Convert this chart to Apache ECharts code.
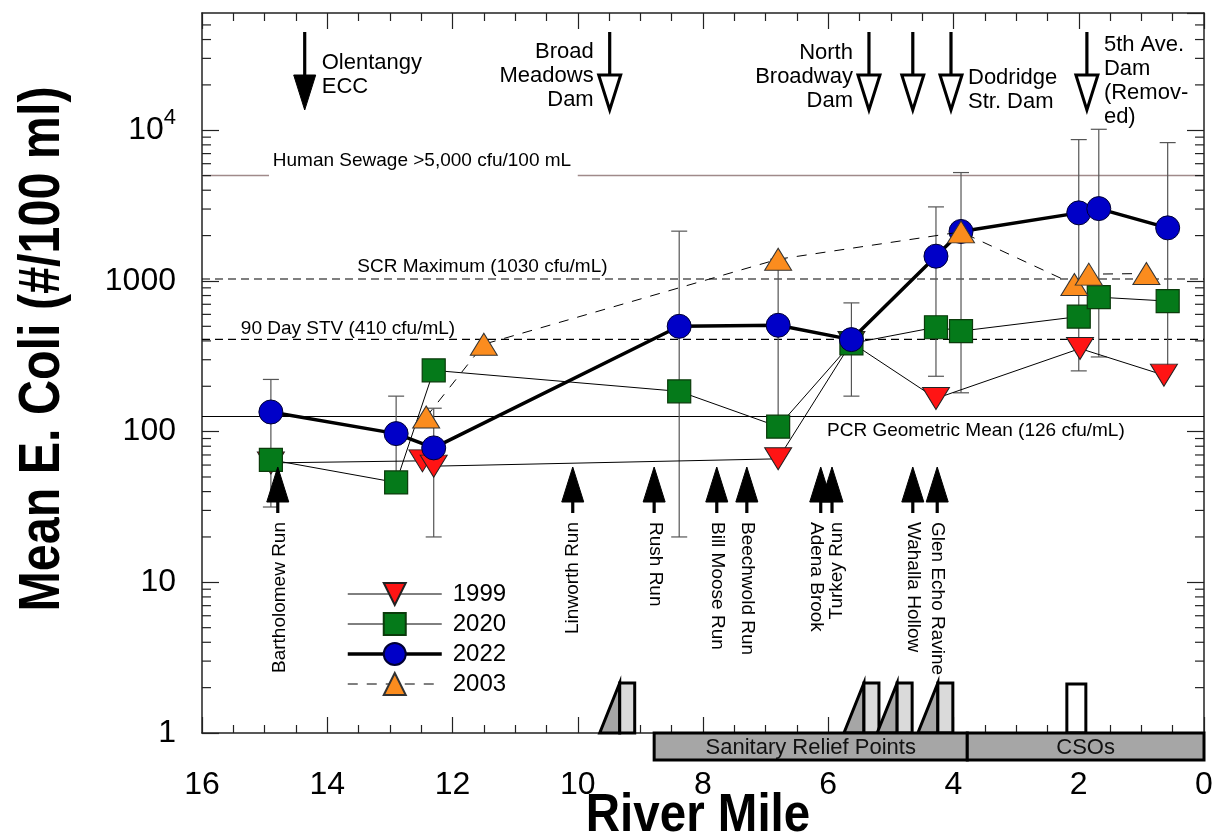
<!DOCTYPE html>
<html>
<head>
<meta charset="utf-8">
<script src="https://cdn.jsdelivr.net/npm/echarts@6/dist/echarts.min.js"></script>
<style>
  html, body { margin: 0; padding: 0; background: #fff; }
  #chart { width: 1224px; height: 838px; }
</style>
</head>
<body>
<div id="chart"></div>
<script>
// ---- Mean E. coli by river mile, one pair of arrays per survey year ----
const miles1999 = [14.9, 12.48, 12.3, 6.8, 5.63, 4.28, 1.98, 0.64];
const ecoli1999 = [62, 64, 59, 66, 390, 166, 356, 237];

const miles2020 = [14.9, 12.9, 12.3, 8.38, 6.8, 5.63, 4.28, 3.88, 2.0, 1.68, 0.58];
const ecoli2020 = [65, 46, 255, 185, 108, 385, 493, 465, 580, 780, 735];

const miles2022 = [14.9, 12.9, 12.3, 8.38, 6.8, 5.63, 4.28, 3.88, 2.0, 1.68, 0.58];
const ecoli2022 = [135, 97, 78, 500, 508, 408, 1460, 2130, 2830, 3020, 2250];

const miles2003 = [12.42, 11.5, 6.8, 3.88, 2.07, 1.84, 0.92];
const ecoli2003 = [125, 380, 1394, 2115, 947, 1109, 1120];

// ---- error bar ranges at the sampling sites ----
const errMiles = [14.9, 12.9, 12.3, 8.38, 6.8, 5.63, 4.28, 3.88, 2.0, 1.68, 0.58];
const errLow   = [31.6, 46, 20, 20, 108, 172, 233, 181, 253, 313, 270];
const errHigh  = [222, 172, 143, 2140, 1394, 715, 3100, 5240, 8670, 10150, 8280];

// ---- water quality criteria ----
const refValues = [5000, 1030, 410, 126];
const refLabels = [
  'Human Sewage >5,000 cfu/100 mL',
  'SCR Maximum (1030 cfu/mL)',
  '90 Day STV (410 cfu/mL)',
  'PCR Geometric Mean (126 cfu/mL)'
];
const refLabelMiles = [14.87, 13.52, 15.38, 6.02];

// ---- dams / ECC along the river (arrows from the top) ----
const damMiles = [14.36, 9.49, 5.35, 4.65, 4.04, 1.87];
const damNames = ['Olentangy\nECC', 'Broad\nMeadows\nDam', 'North\nBroadway\nDam', '', 'Dodridge\nStr. Dam', '5th Ave.\nDam\n(Remov-\ned)'];

// ---- tributaries (arrows from the bottom) ----
const tribMiles = [14.79, 10.08, 8.78, 7.78, 7.30, 6.12, 5.94, 4.65, 4.26];
const tribNames = ['Bartholomew Run', 'Linworth Run', 'Rush Run', 'Bill Moose Run', 'Beechwold Run',
                   'Adena Brook', 'Turkey Run', 'Wahalla Hollow', 'Glen Echo Ravine'];

// ---- overflow structures and reaches ----
const reliefMiles = [9.33, 5.43, 4.90, 4.25];
const csoMiles = [2.19];
const reachStart = [8.78, 3.78];
const reachEnd = [3.78, 0];
const reachNames = ['Sanitary Relief Points', 'CSOs'];

// ---- axes ----
const X_MIN = 0, X_MAX = 16, X_STEP = 2;
const Y_MIN = 1, Y_MAX = 60000;
const yMinorTicks = [];
for (let d = 1; d <= 10000; d *= 10) {
  for (let k = 2; k <= 9; k++) if (d * k < Y_MAX) yMinorTicks.push(d * k);
}

// ---- presentation ----
const FONT = '"Liberation Sans", Arial, Helvetica, sans-serif';
const damFilled = [true, false, false, false, false, false];
const damLabelSide = ['right', 'left', 'left', '', 'right', 'right'];
const damLabelDy = [61.5, 63, 64, 0, 76.5, 68];
const tribReadUp = [true, true, false, false, false, false, true, false, false];
const tribLabelDx = [2, 0, 1, 0, 0, -5, 5, 0, 0];
const refLabelDy = [-15, -12, -11, 14];
const refGaps = [[14.93, 10.0], null, null, null];
const refStyles = [
  { stroke: '#a08a8a', lineWidth: 1.5 },
  { stroke: '#000', lineWidth: 1.2, lineDash: [8, 5] },
  { stroke: '#000', lineWidth: 1.2, lineDash: [8, 5] },
  { stroke: '#000', lineWidth: 1.2 }
];

const zip = (xs, ys) => xs.map((x, i) => [x, ys[i]]);
const downTri = 'path://M0,0 L27,0 L13.5,22 Z';

function hline(x1, x2, y, style) {
  return { type: 'line', shape: { x1, y1: y, x2, y2: y }, style };
}
function vline(x, y1, y2, style) {
  return { type: 'line', shape: { x1: x, y1, x2: x, y2 }, style };
}

const chart = echarts.init(document.getElementById('chart'));

const axisCommonX = {
  type: 'value', min: X_MIN, max: X_MAX, interval: X_STEP, inverse: true,
  axisLine: { show: true, onZero: false, lineStyle: { color: '#222', width: 1.5 } },
  axisTick: { show: true, inside: true, length: 16, lineStyle: { color: '#222', width: 1.2 } },
  minorTick: { show: true, splitNumber: 4, length: 8, lineStyle: { color: '#222', width: 1.2 } },
  splitLine: { show: false }, minorSplitLine: { show: false }
};
const axisCommonY = {
  type: 'log', logBase: 10, min: Y_MIN, max: Y_MAX,
  axisLine: { show: true, onZero: false, lineStyle: { color: '#222', width: 1.5 } },
  axisTick: { show: true, inside: true, length: 17, lineStyle: { color: '#222', width: 1.2 } },
  splitLine: { show: false }
};

const option = {
  animation: false,
  backgroundColor: '#fff',
  textStyle: { fontFamily: FONT, color: '#000' },
  grid: { left: 202, right: 20, top: 13, bottom: 105, containLabel: false, outerBoundsMode: 'none' },
  legend: {
    data: [
      { name: '1999', lineStyle: { color: '#000', width: 1 } },
      { name: '2020', lineStyle: { color: '#000', width: 1 } },
      { name: '2022', lineStyle: { color: '#000', width: 3.5 } },
      { name: '2003', lineStyle: { color: '#000', width: 1, type: [10, 9] } }
    ],
    orient: 'vertical', left: 346, top: 582, padding: 0,
    itemWidth: 94, itemHeight: 27.5, itemGap: 6,
    selectedMode: false,
    textStyle: { fontSize: 24, fontFamily: FONT, color: '#000', padding: [0, 0, 0, 6] }
  },
  // axis titles, set as text so their width can follow the condensed original lettering
  graphic: [
    {
      type: 'text', x: 698, y: 816, scaleX: 0.88, silent: true,
      style: { text: 'River Mile', fontSize: 54, fontWeight: 'bold', fontFamily: FONT, fill: '#000', align: 'center', verticalAlign: 'middle' }
    },
    {
      type: 'text', x: 43, y: 349, rotation: Math.PI / 2, scaleX: 0.85, silent: true,
      style: { text: 'Mean E. Coli (#/100 ml)', fontSize: 57, fontWeight: 'bold', fontFamily: FONT, fill: '#000', align: 'center', verticalAlign: 'middle' }
    }
  ],
  xAxis: [
    Object.assign({}, axisCommonX, {
      position: 'bottom',
      axisLabel: { show: true, fontSize: 32, lineHeight: 32, margin: 36, color: '#000', fontFamily: FONT }
    }),
    Object.assign({}, axisCommonX, { position: 'top', axisLabel: { show: false } })
  ],
  yAxis: [
    Object.assign({}, axisCommonY, {
      position: 'left',
      axisLabel: {
        show: true, fontSize: 32, margin: 26, color: '#000', fontFamily: FONT, showMaxLabel: false,
        formatter: v => (Math.abs(v - 10000) < 1 ? '{b|10}{s|4}' : String(Math.round(v))),
        rich: {
          b: { fontSize: 32, lineHeight: 32, fontFamily: FONT, color: '#000' },
          s: { fontSize: 22, lineHeight: 22, fontFamily: FONT, color: '#000', padding: [0, 0, 24, 0] }
        }
      }
    }),
    Object.assign({}, axisCommonY, { position: 'right', axisLabel: { show: false } })
  ],
  series: [
    // criteria lines with their captions
    {
      type: 'custom', name: 'criteria', z: 1, silent: true,
      data: zip(refLabelMiles, refValues),
      encode: { x: 0, y: 1 },
      renderItem(params, api) {
        const i = params.dataIndex;
        const v = api.value(1);
        const xl = api.coord([X_MAX, v])[0];
        const xr = api.coord([X_MIN, v])[0];
        const y = api.coord([X_MAX, v])[1];
        const st = refStyles[i];
        const children = [];
        const gap = refGaps[i];
        if (gap) {
          children.push(hline(xl, api.coord([gap[0], v])[0], y, st));
          children.push(hline(api.coord([gap[1], v])[0], xr, y, st));
        } else {
          children.push(hline(xl, xr, y, st));
        }
        const lp = api.coord([api.value(0), v]);
        children.push({
          type: 'text', x: lp[0], y: y + refLabelDy[i],
          style: { text: refLabels[i], fontSize: 19, fontFamily: FONT, fill: '#000', align: 'left', verticalAlign: 'middle' }
        });
        return { type: 'group', children };
      }
    },
    // minor ticks of the log axis on both sides of the frame
    {
      type: 'custom', name: 'yMinor', z: 1, silent: true,
      data: yMinorTicks.map(v => [X_MAX, v]),
      encode: { x: 0, y: 1 },
      renderItem(params, api) {
        const v = api.value(1);
        const l = api.coord([X_MAX, v]);
        const r = api.coord([X_MIN, v]);
        const st = { stroke: '#222', lineWidth: 1.2 };
        return { type: 'group', children: [hline(l[0], l[0] + 9, l[1], st), hline(r[0] - 9, r[0], r[1], st)] };
      }
    },
    // error bars
    {
      type: 'custom', name: 'errors', z: 2, silent: true,
      data: errMiles.map((m, i) => [m, errLow[i], errHigh[i]]),
      encode: { x: 0, y: [1, 2] },
      renderItem(params, api) {
        const m = api.value(0);
        const lo = api.coord([m, api.value(1)]);
        const hi = api.coord([m, api.value(2)]);
        const st = { stroke: '#555', lineWidth: 1.2 };
        return {
          type: 'group', children: [
            vline(lo[0], hi[1], lo[1], st),
            hline(hi[0] - 8, hi[0] + 8, hi[1], st),
            hline(lo[0] - 8, lo[0] + 8, lo[1], st)
          ]
        };
      }
    },
    {
      name: '1999', type: 'line', z: 3, data: zip(miles1999, ecoli1999),
      symbol: downTri, symbolSize: [27, 22], showAllSymbol: true,
      itemStyle: { color: '#ff1414', borderColor: '#222', borderWidth: 1 },
      lineStyle: { color: '#000', width: 1 }
    },
    {
      name: '2020', type: 'line', z: 4, data: zip(miles2020, ecoli2020),
      symbol: 'rect', symbolSize: 23, showAllSymbol: true,
      itemStyle: { color: '#057a1a', borderColor: '#0b3b0b', borderWidth: 1.2 },
      lineStyle: { color: '#000', width: 1 }
    },
    {
      name: '2022', type: 'line', z: 5, data: zip(miles2022, ecoli2022),
      symbol: 'circle', symbolSize: 24, showAllSymbol: true,
      itemStyle: { color: '#0000c8', borderColor: '#000033', borderWidth: 1 },
      lineStyle: { color: '#000', width: 3.5 }
    },
    {
      name: '2003', type: 'line', z: 6, data: zip(miles2003, ecoli2003),
      symbol: 'triangle', symbolSize: [27, 22], showAllSymbol: true,
      itemStyle: { color: '#fb8c1e', borderColor: '#333', borderWidth: 1 },
      lineStyle: { color: '#000', width: 1, type: [10, 9] }
    },
    // dams and the Olentangy ECC, arrows hanging from the top of the frame
    {
      type: 'custom', name: 'dams', z: 7, silent: true,
      data: damMiles.map(m => [m, Y_MIN]),
      encode: { x: 0, y: 1 },
      renderItem(params, api) {
        const i = params.dataIndex;
        const x = api.coord([api.value(0), Y_MIN])[0];
        const top = api.coord([api.value(0), Y_MAX])[1];
        const shaftTop = top + 19, headTop = top + 62, tip = top + 97;
        const children = [
          vline(x, shaftTop, damFilled[i] ? headTop + 2 : headTop, { stroke: '#000', lineWidth: 3.2 }),
          {
            type: 'polygon',
            shape: { points: [[x - 11, headTop], [x + 11, headTop], [x, tip]] },
            style: damFilled[i]
              ? { fill: '#000', stroke: '#000', lineWidth: 1 }
              : { fill: '#fff', stroke: '#000', lineWidth: 3, lineJoin: 'miter' }
          }
        ];
        if (damNames[i]) {
          const right = damLabelSide[i] === 'right';
          children.push({
            type: 'text', x: right ? x + 17 : x - 16, y: top + damLabelDy[i],
            style: {
              text: damNames[i], fontSize: 22, lineHeight: 24, fontFamily: FONT, fill: '#000',
              align: right ? 'left' : 'right', verticalAlign: 'middle'
            }
          });
        }
        return { type: 'group', children };
      }
    },
    // tributaries, arrows rising from below with rotated names
    {
      type: 'custom', name: 'tributaries', z: 7, silent: true,
      data: tribMiles.map(m => [m, Y_MIN]),
      encode: { x: 0, y: 1 },
      renderItem(params, api) {
        const i = params.dataIndex;
        const p = api.coord([api.value(0), Y_MIN]);
        const x = p[0], base = p[1];
        const tip = base - 266, headBase = base - 231, bottom = base - 220;
        const up = tribReadUp[i];
        return {
          type: 'group', children: [
            vline(x, headBase - 2, bottom, { stroke: '#000', lineWidth: 3.2 }),
            {
              type: 'polygon',
              shape: { points: [[x - 11, headBase], [x + 11, headBase], [x, tip]] },
              style: { fill: '#000', stroke: '#000', lineWidth: 1 }
            },
            {
              type: 'text', x: x + tribLabelDx[i], y: base - 211,
              rotation: up ? Math.PI / 2 : -Math.PI / 2,
              style: {
                text: tribNames[i], fontSize: 19, fontFamily: FONT, fill: '#000',
                align: up ? 'right' : 'left', verticalAlign: 'middle'
              }
            }
          ]
        };
      }
    },
    // sanitary relief structures: sloped weir plus chamber
    {
      type: 'custom', name: 'relief', z: 7, silent: true, clip: false,
      data: reliefMiles.map(m => [m, Y_MIN]),
      encode: { x: 0, y: 1 },
      renderItem(params, api) {
        const p = api.coord([api.value(0), Y_MIN]);
        const xl = p[0], yb = p[1], yt = yb - 50;
        const st = { stroke: '#000', lineWidth: 3, lineJoin: 'miter' };
        return {
          type: 'group', children: [
            { type: 'polygon', shape: { points: [[xl - 20, yb], [xl, yt], [xl, yb]] }, style: Object.assign({ fill: '#a6a6a6' }, st) },
            { type: 'rect', shape: { x: xl, y: yt, width: 15, height: 50 }, style: Object.assign({ fill: '#dadada' }, st) }
          ]
        };
      }
    },
    // combined sewer overflow chamber
    {
      type: 'custom', name: 'cso', z: 7, silent: true, clip: false,
      data: csoMiles.map(m => [m, Y_MIN]),
      encode: { x: 0, y: 1 },
      renderItem(params, api) {
        const p = api.coord([api.value(0), Y_MIN]);
        return {
          type: 'rect', shape: { x: p[0], y: p[1] - 49, width: 19, height: 49 },
          style: { fill: '#fff', stroke: '#000', lineWidth: 3, lineJoin: 'miter' }
        };
      }
    },
    // reach bands beneath the axis
    {
      type: 'custom', name: 'reaches', z: 8, silent: true, clip: false,
      data: reachStart.map((s, i) => [s, Y_MIN, reachEnd[i]]),
      encode: { x: [0, 2], y: 1 },
      renderItem(params, api) {
        const i = params.dataIndex;
        const a = api.coord([api.value(0), Y_MIN]);
        const b = api.coord([api.value(2), Y_MIN]);
        const y = a[1];
        return {
          type: 'group', children: [
            {
              type: 'rect', shape: { x: a[0], y: y, width: b[0] - a[0], height: 27 },
              style: { fill: '#a6a6a6', stroke: '#000', lineWidth: 3, lineJoin: 'miter' }
            },
            {
              type: 'text', x: (a[0] + b[0]) / 2, y: y + 14.5,
              style: { text: reachNames[i], fontSize: 22, fontFamily: FONT, fill: '#111', align: 'center', verticalAlign: 'middle' }
            }
          ]
        };
      }
    }
  ]
};

chart.setOption(option);
</script>
</body>
</html>
